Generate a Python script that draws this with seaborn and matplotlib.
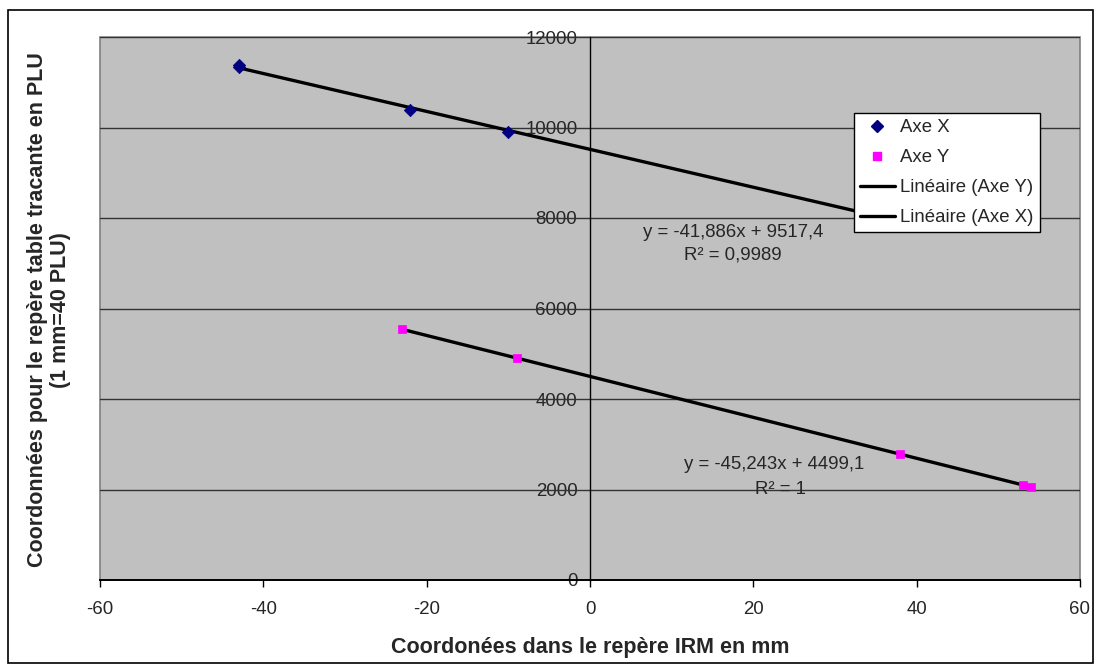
import numpy as np
import pandas as pd
import matplotlib
matplotlib.use("Agg")
import matplotlib.pyplot as plt
from matplotlib.patches import Rectangle
from matplotlib.lines import Line2D
import seaborn as sns

# Calibration points: IRM coordinates (mm) vs plotter table coordinates (PLU)
axe_x_mm = [-43, -43, -22, -10, 38]
axe_x_plu = [11380, 11330, 10380, 9900, 7900]
axe_y_mm = [-23, -9, 38, 53, 54]
axe_y_plu = [5540, 4905, 2780, 2100, 2055]

# Linear trendlines (slope, intercept, R²)
fit_x = (-41.886, 9517.4, "0,9989")
fit_y = (-45.243, 4499.1, "1")

x_ticks = [-60, -40, -20, 0, 20, 40, 60]
y_ticks = [0, 2000, 4000, 6000, 8000, 10000, 12000]

sns.set_theme(style="white")
plt.rcParams["font.family"] = ["Liberation Sans", "DejaVu Sans"]

FS = 13.4

fig = plt.figure(figsize=(11.01, 6.72), dpi=100)
ax = fig.add_axes([100 / 1101, 1 - 580 / 672, 980 / 1101, 543 / 672])
ax.set_facecolor("#C0C0C0")

# Horizontal gridlines
for v in y_ticks[1:]:
    ax.axhline(v, color="#333333", lw=1.0, zorder=1)

# Trendlines over each series' data range
def trend(xs, fit):
    x0, x1 = min(xs), max(xs)
    return pd.DataFrame({"x": [x0, x1], "y": [fit[0] * x0 + fit[1], fit[0] * x1 + fit[1]]})

tx = trend(axe_x_mm, fit_x)
ty = trend(axe_y_mm, fit_y)
sns.lineplot(data=ty, x="x", y="y", ax=ax, color="black", lw=2.4, zorder=3, legend=False)
sns.lineplot(data=tx, x="x", y="y", ax=ax, color="black", lw=2.4, zorder=3, legend=False)

# Data points
sns.scatterplot(x=axe_x_mm, y=axe_x_plu, ax=ax, marker="D", s=40, color="#000080",
                edgecolor="#000080", linewidth=0.5, zorder=4, legend=False)
sns.scatterplot(x=axe_y_mm, y=axe_y_plu, ax=ax, marker="s", s=36, color="#FF00FF",
                edgecolor="#FF00FF", linewidth=0.5, zorder=4, legend=False)

ax.set_xlim(-60, 60)
ax.set_ylim(0, 12000)
ax.set_xticks(x_ticks)
ax.set_yticks(y_ticks)
ax.set_xticklabels([str(t) for t in x_ticks])
ax.set_yticklabels([str(t) for t in y_ticks])
ax.set_xlabel("")
ax.set_ylabel("")

# Axes styled like a spreadsheet chart: vertical axis crossing at x = 0
for s in ["top", "right"]:
    ax.spines[s].set_visible(False)
ax.spines["left"].set_position(("data", 0))
ax.spines["left"].set_color("black")
ax.spines["left"].set_linewidth(1.0)
ax.spines["left"].set_zorder(2)
ax.spines["bottom"].set_color("black")
ax.spines["bottom"].set_linewidth(1.4)
ax.add_patch(Rectangle((0, 0), 1, 1, transform=ax.transAxes, fill=False,
                       edgecolor="#808080", lw=1.2, zorder=0.5, clip_on=False))
ax.tick_params(axis="y", direction="out", length=5, width=1, color="black",
               labelsize=FS, pad=4)
ax.tick_params(axis="x", direction="out", length=5, width=1, color="black",
               labelsize=FS, pad=10, bottom=True)

# Trendline equations
ax.text(17.5, 7690, "y = -41,886x + 9517,4", ha="center", va="center", fontsize=FS, zorder=5)
ax.text(17.5, 7180, f"R\u00b2 = {fit_x[2]}", ha="center", va="center", fontsize=FS, zorder=5)
ax.text(22.6, 2560, "y = -45,243x + 4499,1", ha="center", va="center", fontsize=FS, zorder=5)
ax.text(23.3, 2010, f"R\u00b2 = {fit_y[2]}", ha="center", va="center", fontsize=FS, zorder=5)

# Legend
handles = [
    Line2D([], [], ls="none", marker="D", ms=6, color="#000080"),
    Line2D([], [], ls="none", marker="s", ms=5.5, color="#FF00FF"),
    Line2D([], [], color="black", lw=2.4),
    Line2D([], [], color="black", lw=2.4),
]
labels = ["Axe X", "Axe Y", "Linéaire (Axe Y)", "Linéaire (Axe X)"]
leg = ax.legend(handles, labels, loc="upper left",
                bbox_to_anchor=((854 - 100) / 980, (580 - 113) / 543),
                frameon=True, fancybox=False, fontsize=FS, handlelength=1.85,
                handletextpad=0.3, borderpad=0.33, labelspacing=0.7, borderaxespad=0)
leg.get_frame().set_edgecolor("black")
leg.get_frame().set_facecolor("white")
leg.get_frame().set_linewidth(1.0)
leg.get_frame().set_alpha(1)
leg.set_zorder(10)

# Axis titles
fig.text((100 + 1080) / 2 / 1101, 1 - 647 / 672, "Coordonées dans le repère IRM en mm",
         ha="center", va="center", fontsize=15.5, fontweight="bold")
fig.text(49 / 1101, 1 - 310 / 672,
         "Coordonnées pour le repère table tracante en PLU\n(1 mm=40 PLU)",
         ha="center", va="center", rotation=90, fontsize=15.5, fontweight="bold",
         multialignment="center", linespacing=1.1)

# Chart border
fig.add_artist(Rectangle((8 / 1101, 1 - 663 / 672), 1085 / 1101, 653 / 672,
                         transform=fig.transFigure, fill=False, edgecolor="black", lw=1.2))

fig.savefig("out.png", dpi=100)
